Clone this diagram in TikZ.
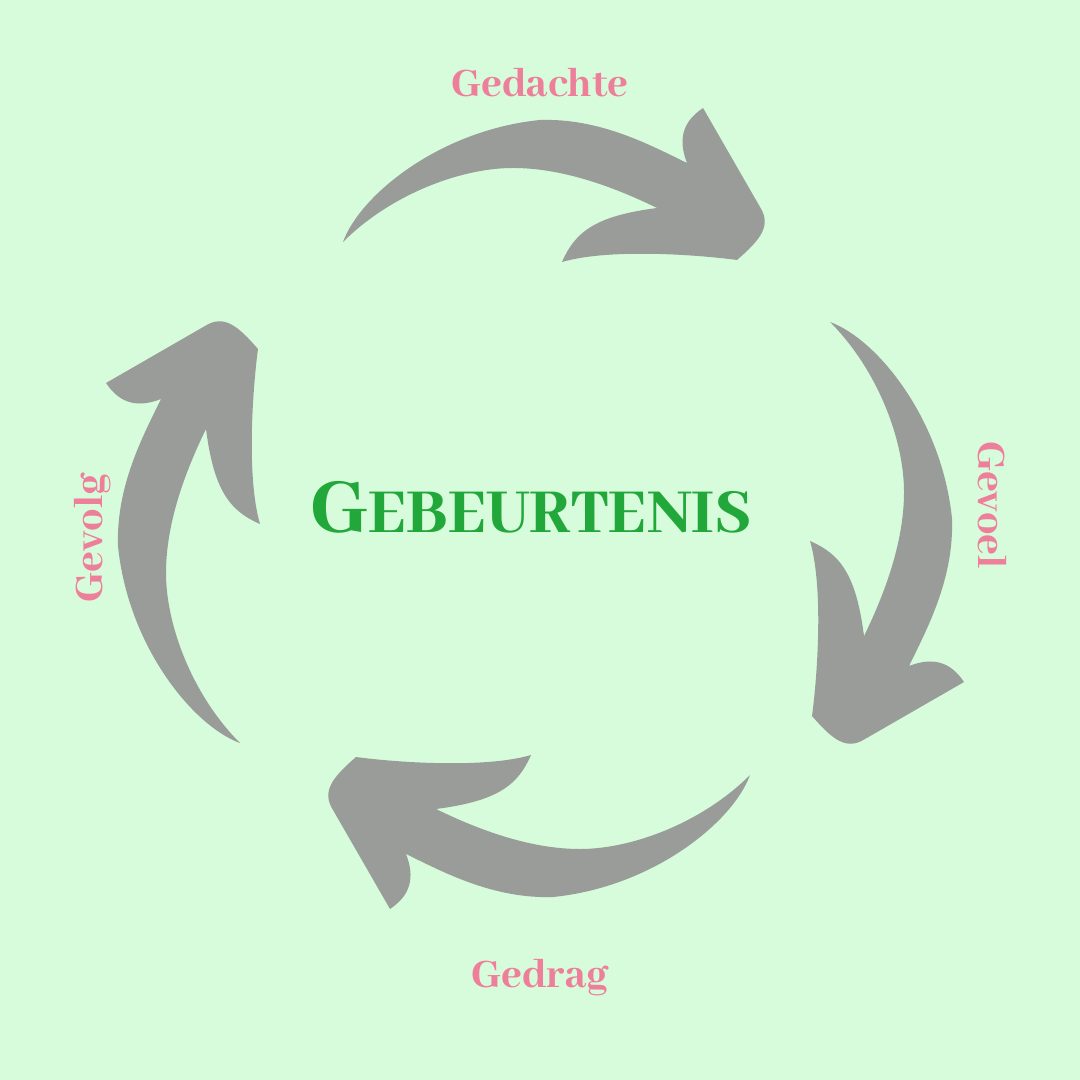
\documentclass[tikz,border=0pt]{standalone}
\usepackage{fontspec}
\usepackage{xcolor}
\usetikzlibrary{positioning}
\newfontfamily\labelfont{Abhaya Libre}[BoldFont={Abhaya Libre ExtraBold}]
\definecolor{bgmint}{HTML}{D7FCDB}
\definecolor{arrowgrey}{HTML}{9A9C9A}
\definecolor{labelpink}{HTML}{EE7F9B}
\definecolor{titlegreen}{HTML}{22A83A}
% one curved arrow, drawn in pixel units (top position)
\newcommand{\cyclearrow}{(343,242) .. controls (360,195) and (440,130) .. (540,120)
  .. controls (600,118) and (650,145) .. (687,163)
  .. controls (678,140) and (682,122) .. (703,108)
  -- (760,207) .. controls (772,226) and (760,240) .. (737,260)
  .. controls (700,255) and (610,248) .. (562,262)
  .. controls (575,232) and (595,216) .. (657,208)
  .. controls (610,185) and (560,168) .. (513,168)
  .. controls (460,168) and (390,195) .. (343,242) -- cycle}

\begin{document}
\begin{tikzpicture}[x=0.01cm, y=-0.01cm, stagelabel/.style={text=labelpink, inner sep=0pt, anchor=base, font=\labelfont\bfseries\fontsize{12.6}{15}\selectfont}, arrowshape/.style={fill=arrowgrey}]
  \fill[bgmint] (0,0) rectangle (1080,1080);
  \useasboundingbox (0,0) rectangle (1080,1080);
  % the four arrows of the cycle
  \fill[arrowshape] \cyclearrow;
  \fill[arrowshape, rotate around={-90:(546.5,525.5)}] \cyclearrow;
  \fill[arrowshape, rotate around={180:(546.5,508.5)}] \cyclearrow;
  \fill[arrowshape, rotate around={90:(542,544)}] \cyclearrow;
  % labels
  \node[stagelabel] (gedachte) at (540,97) {Gedachte};
  \node[stagelabel, rotate=-90] (gevoel) at (978,505) {Gevoel};
  \node[stagelabel] (gedrag) at (540,987) {Gedrag};
  \node[stagelabel, rotate=90] (gevolg) at (102,538) {Gevolg};
  \node[text=titlegreen, inner sep=0pt, anchor=base, font=\labelfont\bfseries] (gebeurtenis) at (531,532) {{\fontsize{24.4}{26}\selectfont G}{\fontsize{19.6}{22}\selectfont EBEURTENIS}};
\end{tikzpicture}
\end{document}
